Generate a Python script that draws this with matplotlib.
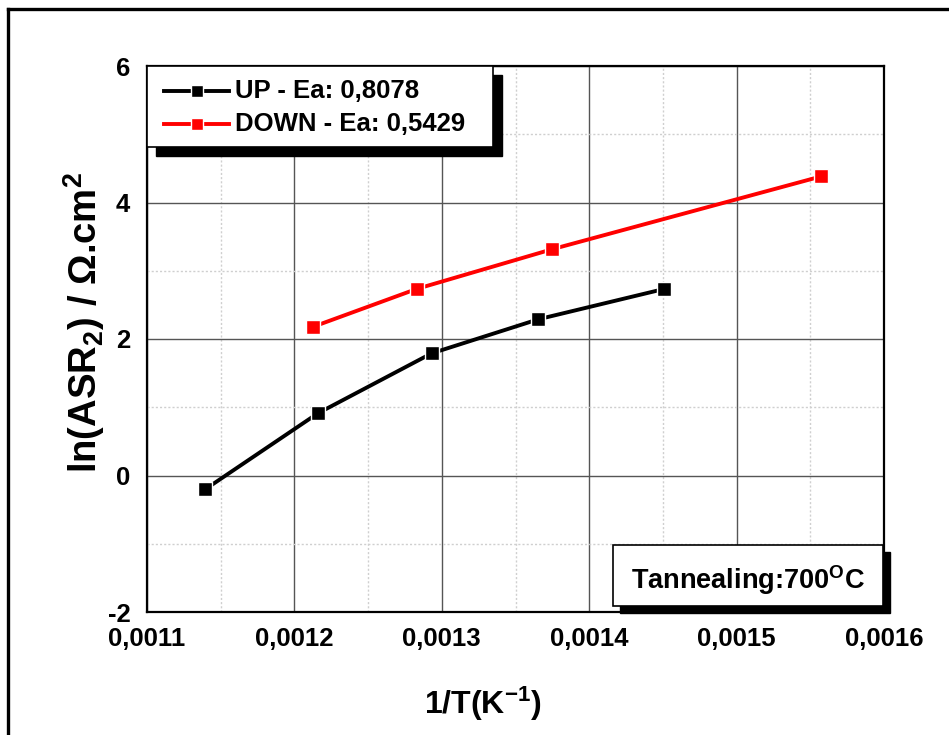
import matplotlib
matplotlib.use("Agg")
import matplotlib.pyplot as plt
from matplotlib.patches import Rectangle
from matplotlib.lines import Line2D
from matplotlib.ticker import MultipleLocator, FuncFormatter

plt.rcParams['font.family'] = ['Liberation Sans', 'DejaVu Sans']
plt.rcParams['font.weight'] = 'bold'
plt.rcParams['mathtext.default'] = 'regular'
plt.rcParams['mathtext.fontset'] = 'custom'
plt.rcParams['mathtext.rm'] = 'Liberation Sans'

# Data
up_x = [0.0011393, 0.0012158, 0.0012931, 0.0013655, 0.0014510]
up_y = [-0.205, 0.91, 1.79, 2.289, 2.734]
down_x = [0.0012128, 0.0012830, 0.0013750, 0.0015573]
down_y = [2.18, 2.734, 3.316, 4.382]
up_label = "UP - Ea: 0,8078"
down_label = "DOWN - Ea: 0,5429"
x_ticks = [0.0011, 0.0012, 0.0013, 0.0014, 0.0015, 0.0016]
y_ticks = [-2, 0, 2, 4, 6]

W, H = 949, 735
fig = plt.figure(figsize=(W / 100, H / 100), dpi=100)
ax = fig.add_axes([147 / W, 1 - 612 / H, (884 - 147) / W, (612 - 66) / H])

ax.set_xlim(0.0011, 0.0016)
ax.set_ylim(-2, 6)
ax.set_xticks(x_ticks)
ax.set_yticks(y_ticks)
ax.xaxis.set_minor_locator(MultipleLocator(0.00005))
ax.yaxis.set_minor_locator(MultipleLocator(1))
ax.xaxis.set_major_formatter(FuncFormatter(lambda v, p: f"{v:.4f}".replace('.', ',')))
ax.yaxis.set_major_formatter(FuncFormatter(lambda v, p: f"{int(round(v))}"))
ax.tick_params(which='both', length=0)
ax.tick_params(axis='x', pad=11, labelsize=18.5)
ax.tick_params(axis='y', pad=12, labelsize=18.5)
for lab in ax.get_xticklabels() + ax.get_yticklabels():
    lab.set_fontweight('bold')

ax.grid(which='major', color='#555555', linewidth=1.0, linestyle='-')
ax.grid(which='minor', color='#cfcfcf', linewidth=1.0, linestyle=(0, (1.5, 1.5)))
ax.set_axisbelow(True)
for s in ax.spines.values():
    s.set_linewidth(1.6)
    s.set_color('black')

ax.plot(up_x, up_y, color='black', linewidth=2.8, marker='s', markersize=9.5,
        markerfacecolor='black', markeredgecolor='white', markeredgewidth=1.0,
        zorder=3)
ax.plot(down_x, down_y, color='#ff0000', linewidth=2.8, marker='s', markersize=9.5,
        markerfacecolor='#ff0000', markeredgecolor='white', markeredgewidth=1.0,
        zorder=3)

# Legend box with shadow
aw, ah = 884 - 147, 612 - 66
def ax_x(px):
    return (px - 147) / aw
def ax_y(py):
    return 1 - (py - 66) / ah

lx0, lx1, ly0, ly1 = ax_x(147), ax_x(493), ax_y(147), ax_y(66)
ax.add_patch(Rectangle((lx0 + 9 / aw, ly0 - 9 / ah), lx1 - lx0, ly1 - ly0,
                       transform=ax.transAxes, facecolor='black', edgecolor='black',
                       clip_on=False, zorder=5))
ax.add_patch(Rectangle((lx0, ly0), lx1 - lx0, ly1 - ly0,
                       transform=ax.transAxes, facecolor='white', edgecolor='black',
                       linewidth=1.2, clip_on=False, zorder=6))
for (lab, col, py) in [(up_label, 'black', 91), (down_label, '#ff0000', 124)]:
    ax.add_line(Line2D([ax_x(164), ax_x(229)], [ax_y(py), ax_y(py)], transform=ax.transAxes,
                       color=col, linewidth=2.8, zorder=7, clip_on=False))
    ax.add_line(Line2D([ax_x(196.5)], [ax_y(py)], transform=ax.transAxes, marker='s',
                       markersize=8.5, color=col, markeredgecolor='white',
                       markeredgewidth=1.0, zorder=8, clip_on=False))
    ax.text(ax_x(235), ax_y(py), lab, transform=ax.transAxes, fontsize=18.5,
            fontweight='bold', va='center', ha='left', zorder=9)

# Annealing box with shadow
bx0, bx1, by0, by1 = ax_x(613), ax_x(883), ax_y(606), ax_y(545)
ax.add_patch(Rectangle((bx0 + 7 / aw, by0 - 7 / ah), bx1 - bx0, by1 - by0,
                       transform=ax.transAxes, facecolor='black', edgecolor='black',
                       clip_on=False, zorder=5))
ax.add_patch(Rectangle((bx0, by0), bx1 - bx0, by1 - by0,
                       transform=ax.transAxes, facecolor='white', edgecolor='black',
                       linewidth=1.2, clip_on=False, zorder=6))
ax.text((bx0 + bx1) / 2, ax_y(589), r"Tannealing:700$^{O}$C", transform=ax.transAxes,
        fontsize=19.5, fontweight='bold', ha='center', va='baseline', zorder=9)

# Axis labels
fig.text(483 / W, 1 - 704 / H, r"1/T(K$^{-1}$)", fontsize=23, fontweight='bold',
         ha='center', va='center')
fig.text(84 / W, 1 - 322 / H, r"ln(ASR$_{2}$) / $\mathrm{\Omega}$.cm$^{2}$", fontsize=27.5,
         fontweight='bold', ha='center', va='center', rotation=90)

# Outer frame (top and left edges)
fig.add_artist(Line2D([7.5 / W, 1], [1 - 9 / H, 1 - 9 / H], transform=fig.transFigure,
                      color='black', linewidth=2.4))
fig.add_artist(Line2D([7.5 / W, 7.5 / W], [0, 1 - 9 / H], transform=fig.transFigure,
                      color='black', linewidth=2.4))

fig.savefig("out.png", dpi=100)
